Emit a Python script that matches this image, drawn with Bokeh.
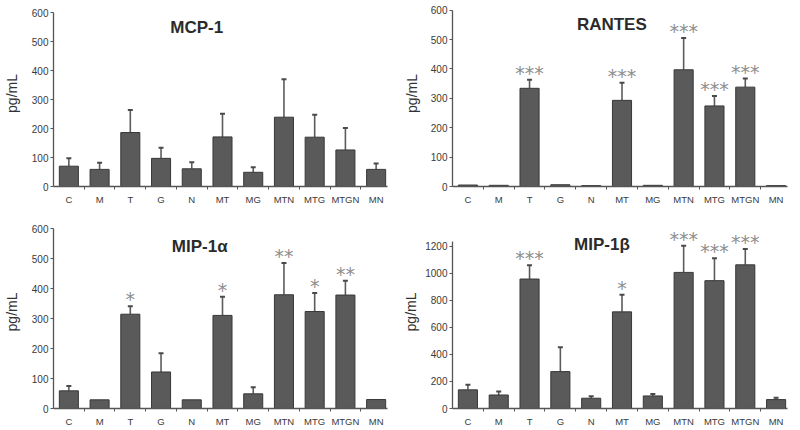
from bokeh.plotting import figure
from bokeh.models import ColumnDataSource, Range1d, FixedTicker, Label
from bokeh.layouts import gridplot
from bokeh.embed import file_html
from bokeh.resources import INLINE
from bokeh.core.properties import value

categories = ["C", "M", "T", "G", "N", "MT", "MG", "MTN", "MTG", "MTGN", "MN"]

mcp1_mean = [70, 59, 186, 97, 61, 171, 49, 239, 170, 126, 59]
mcp1_upper = [97, 82, 264, 134, 84, 251, 66, 370, 247, 202, 79]
mcp1_sig = ["", "", "", "", "", "", "", "", "", "", ""]

rantes_mean = [5, 4, 334, 6, 3, 293, 4, 397, 274, 338, 3]
rantes_upper = [5, 4, 363, 6, 3, 353, 4, 505, 308, 367, 3]
rantes_sig = ["", "", "***", "", "", "***", "", "***", "***", "***", ""]

mip1a_mean = [59, 29, 315, 122, 29, 311, 49, 380, 324, 379, 30]
mip1a_upper = [75, 29, 342, 185, 29, 373, 71, 486, 386, 427, 30]
mip1a_sig = ["", "", "*", "", "", "*", "", "**", "*", "**", ""]

mip1b_mean = [138, 100, 958, 273, 76, 715, 93, 1007, 946, 1063, 66]
mip1b_upper = [175, 126, 1059, 454, 90, 841, 107, 1205, 1112, 1180, 80]
mip1b_sig = ["", "", "***", "", "", "*", "", "***", "***", "***", ""]

ticks_600 = [0, 100, 200, 300, 400, 500, 600]
ticks_1200 = [0, 200, 400, 600, 800, 1000, 1200]

AXIS_COLOR = "#555555"
TEXT_COLOR = "#3a3a3a"


def make_panel(title, mean, upper, sig, yticks, y_end, axis_top,
               bl, br, bt, bb, title_x, title_y, label_standoff):
    xs = list(range(len(categories)))
    p = figure(width=400, height=215, output_backend="svg", toolbar_location=None,
               x_range=Range1d(-0.5, 10.37), y_range=Range1d(0, y_end),
               min_border_left=bl, min_border_right=br,
               min_border_top=bt, min_border_bottom=bb)
    p.outline_line_color = None
    p.grid.visible = False
    p.background_fill_color = "white"
    p.border_fill_color = "white"

    src = ColumnDataSource(dict(x=xs, mean=mean, upper=upper, sig=sig))
    ex = [x for x, m, u in zip(xs, mean, upper) if u > m]
    em = [m for m, u in zip(mean, upper) if u > m]
    eu = [u for m, u in zip(mean, upper) if u > m]
    esrc = ColumnDataSource(dict(x=ex, mean=em, upper=eu))

    p.segment(x0="x", y0="mean", x1="x", y1="upper", source=esrc,
              line_color="#5c5c5c", line_width=1.6)
    p.scatter(x="x", y="upper", source=esrc, marker="dash", size=5,
              line_color="#4a4a4a", line_width=2)
    p.vbar(x="x", top="mean", bottom=0, width=0.62, source=src,
           fill_color="#5a5a5a", line_color="#383838", line_width=1)
    p.text(x="x", y="upper", text="sig", source=src, text_align="center",
           text_baseline="alphabetic", text_font=value("DejaVu Sans"),
           text_font_size="19px", text_color="#8e8e8e", y_offset=-7)

    p.add_layout(Label(x=title_x, y=title_y, text=title, text_align="center",
                       text_baseline="middle", text_font="Liberation Sans",
                       text_font_style="bold", text_font_size="17px",
                       text_color="#2b2b2b"))

    ya = p.yaxis[0]
    ya.ticker = FixedTicker(ticks=yticks)
    ya.bounds = (0, axis_top)
    ya.axis_line_color = AXIS_COLOR
    ya.axis_line_width = 1.3
    ya.major_tick_line_color = AXIS_COLOR
    ya.major_tick_out = 3
    ya.major_tick_in = 0
    ya.minor_tick_line_color = None
    ya.major_label_standoff = 2
    ya.major_label_text_font = "Liberation Sans"
    ya.major_label_text_font_size = "10px"
    ya.major_label_text_color = TEXT_COLOR
    ya.axis_label = "pg/mL"
    ya.axis_label_standoff = label_standoff
    ya.axis_label_text_font = "Liberation Sans"
    ya.axis_label_text_font_style = "normal"
    ya.axis_label_text_font_size = "14px"
    ya.axis_label_text_color = "#333333"

    xa = p.xaxis[0]
    xa.ticker = FixedTicker(ticks=xs, minor_ticks=[i + 0.5 for i in range(10)])
    xa.major_label_overrides = {i: c for i, c in enumerate(categories)}
    xa.axis_line_color = AXIS_COLOR
    xa.axis_line_width = 1.3
    xa.major_tick_line_color = None
    xa.major_tick_out = 0
    xa.major_tick_in = 0
    xa.minor_tick_line_color = AXIS_COLOR
    xa.minor_tick_out = 3
    xa.minor_tick_in = 0
    xa.major_label_standoff = 4
    xa.major_label_text_font = "Liberation Sans"
    xa.major_label_text_font_size = "9.5px"
    xa.major_label_text_color = TEXT_COLOR
    return p


p1 = make_panel("MCP-1", mcp1_mean, mcp1_upper, mcp1_sig, ticks_600, 641.4, 600,
                50, 13, 0, 29, 4.16, 549, 9)
p2 = make_panel("RANTES", rantes_mean, rantes_upper, rantes_sig, ticks_600, 632.7, 600,
                51, 13, 0, 29, 4.67, 551, 8)
p3 = make_panel("MIP-1\u03b1", mip1a_mean, mip1a_upper, mip1a_sig, ticks_600, 644.8, 600,
                50, 13, 0, 22, 4.26, 540, 9)
p4 = make_panel("MIP-1\u03b2", mip1b_mean, mip1b_upper, mip1b_sig, ticks_1200, 1428, 1237,
                51, 13, 0, 21, 4.35, 1211, 3)

grid = gridplot([[p1, p2], [p3, p4]], toolbar_location=None)
open("out.html", "w").write(file_html(grid, INLINE))
